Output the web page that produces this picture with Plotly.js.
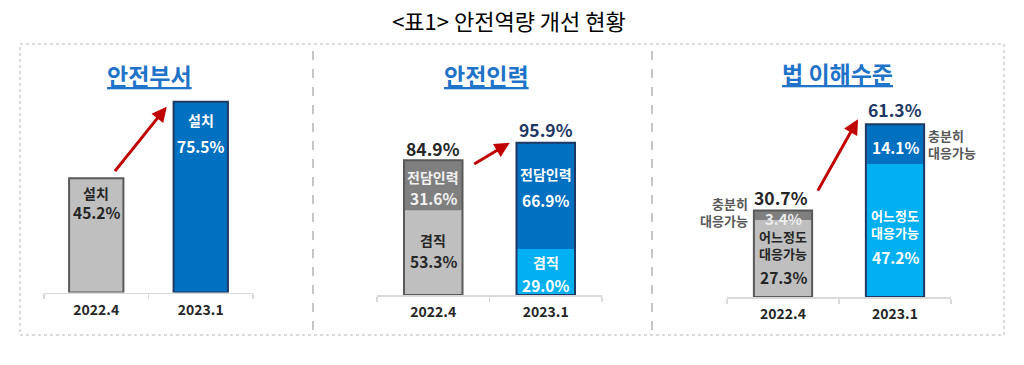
<!DOCTYPE html>
<html><head><meta charset="utf-8">
<script src="https://cdn.plot.ly/plotly-3.0.1.min.js"></script>
<style>html,body{margin:0;padding:0;background:#fff;}#chart{width:1024px;height:365px;}</style>
</head><body><div id="chart"></div>
<script>
// ---- data ----
const periods = ['2022.4', '2023.1'];
// 안전부서 (설치)
const deptInstalled = [45.2, 75.5];
// 안전인력
const staffConcurrent = [53.3, 29.0];   // 겸직
const staffDedicated = [31.6, 66.9];    // 전담인력
const staffTotal = [84.9, 95.9];
// 법 이해수준
const lawSomewhat = [27.3, 47.2];       // 어느정도 대응가능
const lawSufficient = [3.4, 14.1];      // 충분히 대응가능
const lawTotal = [30.7, 61.3];

const panelTitles = ['안전부서', '안전인력', '법 이해수준'];
const mainTitle = '<표1> 안전역량 개선 현황';

// ---- styles ----
const FONT = '"Noto Sans CJK KR", "Noto Sans", sans-serif';
const GREY_L = '#bfbfbf', GREY_D = '#7f7f7f', BLUE = '#0070c0', SKY = '#00b0f0';
const LINE_G = '#595959', LINE_B = '#1f3864';
const DARK = '#262626', WHITE = '#ffffff', NAVY = '#1f3864', SIDE = '#595959';
const W = 0.52;
const H = 365, PW = 1024;
const py = p => (H - p) / H;
const px = p => p / PW;
const pct = v => v.toFixed(1) + '%';
const FL = 14, FL2 = 13, FV = 15.5, FT = 17.5, FS = 13;

const traces = [
  // panel 1
  {type: 'bar', x: periods, y: deptInstalled, width: W, xaxis: 'x', yaxis: 'y',
   marker: {color: [GREY_L, BLUE], line: {color: [LINE_G, LINE_B], width: 2}}},
  // panel 2
  {type: 'bar', x: periods, y: staffConcurrent, width: W, xaxis: 'x2', yaxis: 'y2',
   marker: {color: [GREY_L, SKY], line: {width: 0}}},
  {type: 'bar', x: periods, y: staffDedicated, base: staffConcurrent, width: W, xaxis: 'x2', yaxis: 'y2',
   marker: {color: [GREY_D, BLUE], line: {width: 0}}},
  {type: 'bar', x: periods, y: staffTotal, width: W, xaxis: 'x2', yaxis: 'y2',
   marker: {color: 'rgba(0,0,0,0)', line: {color: [LINE_G, LINE_B], width: 2}}},
  // panel 3
  {type: 'bar', x: periods, y: lawSomewhat, width: W, xaxis: 'x3', yaxis: 'y3',
   marker: {color: [GREY_L, SKY], line: {width: 0}}},
  {type: 'bar', x: periods, y: lawSufficient, base: lawSomewhat, width: W, xaxis: 'x3', yaxis: 'y3',
   marker: {color: [GREY_D, BLUE], line: {width: 0}}},
  {type: 'bar', x: periods, y: lawTotal, width: W, xaxis: 'x3', yaxis: 'y3',
   marker: {color: 'rgba(0,0,0,0)', line: {color: [LINE_G, LINE_B], width: 2}}}
];
traces.forEach(tr => { tr.hoverinfo = 'skip'; tr.showlegend = false; });

function xax(d0, d1, anchor) {
  return {domain: [px(d0), px(d1)], anchor: anchor, type: 'category', range: [-0.5, 1.5],
    showline: true, linecolor: '#d9d9d9', linewidth: 1.5, showgrid: false, zeroline: false,
    ticks: 'outside', tickson: 'boundaries', ticklen: 5, tickcolor: '#d9d9d9', tickwidth: 1.5,
    ticklabelstandoff: 4,
    tickfont: {family: FONT, size: 14, color: DARK, weight: 'bold'}, fixedrange: true};
}
function yax(base, top, scale, anchor) {
  return {domain: [py(base), py(top)], anchor: anchor, range: [0, (base - top) / scale],
    showline: false, showgrid: false, zeroline: false, showticklabels: false, ticks: '', fixedrange: true};
}

const ann = [];
// i = category index (0 = 2022.4, 1 = 2023.1)
function lab(xr, yr, i, y, text, size, color, yshift, extra) {
  ann.push(Object.assign({xref: xr, yref: yr, x: i, y: y, text: text, showarrow: false,
    yshift: yshift, xanchor: 'center', yanchor: 'middle', borderpad: 0,
    font: {family: FONT, size: size, color: color, weight: 'bold'}}, extra || {}));
}

// panel titles
const titleX = [149, 486, 837], titleY = [75, 75, 73];
panelTitles.forEach((s, i) => ann.push({xref: 'paper', yref: 'paper', x: px(titleX[i]), y: py(titleY[i]),
  text: '<u>' + s + '</u>', showarrow: false, xanchor: 'center', yanchor: 'middle',
  font: {family: FONT, size: 23, color: '#1f73c8', weight: 'bold'}}));

// panel 1 labels
lab('x', 'y', 0, deptInstalled[0], '설치', FL, DARK, -15);
lab('x', 'y', 0, deptInstalled[0], pct(deptInstalled[0]), FV, DARK, -34);
lab('x', 'y', 1, deptInstalled[1], '설치', FL, WHITE, -18);
lab('x', 'y', 1, deptInstalled[1], pct(deptInstalled[1]), FV, WHITE, -44);

// panel 2 labels
lab('x2', 'y2', 0, staffTotal[0], pct(staffTotal[0]), FT, DARK, 12);
lab('x2', 'y2', 1, staffTotal[1], pct(staffTotal[1]), FT, NAVY, 13);
lab('x2', 'y2', 0, staffTotal[0], '전담인력', FL, '#f2f2f2', -17);
lab('x2', 'y2', 0, staffTotal[0], pct(staffDedicated[0]), FV, '#f2f2f2', -38);
lab('x2', 'y2', 0, staffConcurrent[0], '겸직', FL, DARK, -30);
lab('x2', 'y2', 0, staffConcurrent[0], pct(staffConcurrent[0]), FV, DARK, -51);
lab('x2', 'y2', 1, staffTotal[1], '전담인력', FL, WHITE, -31);
lab('x2', 'y2', 1, staffTotal[1], pct(staffDedicated[1]), FV, WHITE, -57);
lab('x2', 'y2', 1, staffConcurrent[1], '겸직', FL, WHITE, -13);
lab('x2', 'y2', 1, staffConcurrent[1], pct(staffConcurrent[1]), FV, WHITE, -36);

// panel 3 labels
lab('x3', 'y3', 0, lawTotal[0], pct(lawTotal[0]), FT, DARK, 13, {xshift: -2});
lab('x3', 'y3', 0, lawTotal[0], pct(lawSufficient[0]), FV - 0.5, '#ededed', -8);
lab('x3', 'y3', 0, lawSomewhat[0], '어느정도', FL2, DARK, -16);
lab('x3', 'y3', 0, lawSomewhat[0], '대응가능', FL2, DARK, -33);
lab('x3', 'y3', 0, lawSomewhat[0], pct(lawSomewhat[0]), FV, DARK, -57);
lab('x3', 'y3', 0, lawTotal[0], '충분히', FS, SIDE, 7, {xanchor: 'right', xshift: -34});
lab('x3', 'y3', 0, lawTotal[0], '대응가능', FS, SIDE, -10, {xanchor: 'right', xshift: -34});
lab('x3', 'y3', 1, lawTotal[1], pct(lawTotal[1]), FT, NAVY, 15);
lab('x3', 'y3', 1, lawTotal[1], pct(lawSufficient[1]), FV, WHITE, -23);
lab('x3', 'y3', 1, lawSomewhat[1], '어느정도', FL2, WHITE, -52);
lab('x3', 'y3', 1, lawSomewhat[1], '대응가능', FL2, WHITE, -69);
lab('x3', 'y3', 1, lawSomewhat[1], pct(lawSomewhat[1]), FV, WHITE, -93);
lab('x3', 'y3', 1, lawTotal[1], '충분히', FS, SIDE, -11, {xanchor: 'left', xshift: 32});
lab('x3', 'y3', 1, lawTotal[1], '대응가능', FS, SIDE, -28, {xanchor: 'left', xshift: 32});

// red arrows (head near the 2023.1 bar top, tail near the 2022.4 bar)
function arrow(xr, yr, y, xshift, yshift, ax, ay) {
  ann.push({xref: xr, yref: yr, x: 1, y: y, xshift: xshift, yshift: yshift,
    text: '', showarrow: true, axref: 'pixel', ayref: 'pixel', ax: ax, ay: ay,
    arrowhead: 2, arrowsize: 1, arrowwidth: 3, arrowcolor: '#c00000'});
}
arrow('x', 'y', deptInstalled[1], -34, -5, -53, 66);
arrow('x2', 'y2', staffTotal[1], -36, 0, -37, 22);
arrow('x3', 'y3', lawTotal[1], -37, 5, -41, 73);

const shapes = [
  {type: 'rect', xref: 'paper', yref: 'paper', x0: px(20), x1: px(1004), y0: py(335), y1: py(44),
   line: {color: '#b8b8b8', width: 1, dash: 'dot'}},
  {type: 'line', xref: 'paper', yref: 'paper', x0: px(313), x1: px(313), y0: py(330), y1: py(49),
   line: {color: '#a0a0a0', width: 1.2, dash: 'dash'}},
  {type: 'line', xref: 'paper', yref: 'paper', x0: px(652), x1: px(652), y0: py(330), y1: py(49),
   line: {color: '#a0a0a0', width: 1.2, dash: 'dash'}}
];

const layout = {
  width: 1024, height: 365, margin: {l: 0, r: 0, t: 0, b: 0},
  paper_bgcolor: '#ffffff', plot_bgcolor: 'rgba(0,0,0,0)',
  barmode: 'overlay', showlegend: false,
  title: {text: mainTitle, x: 0.497, xanchor: 'center', y: py(22), yanchor: 'middle', yref: 'paper',
          font: {family: FONT, size: 22, color: '#000000'}},
  xaxis: xax(44, 253, 'y'), yaxis: yax(292.5, 92.5, 2.528, 'x'),
  xaxis2: xax(377, 602, 'y2'), yaxis2: yax(295, 95, 1.587, 'x2'),
  xaxis3: xax(727, 951, 'y3'), yaxis3: yax(297, 97, 2.82, 'x3'),
  annotations: ann, shapes: shapes
};

Plotly.newPlot('chart', traces, layout, {displayModeBar: false, staticPlot: true});
</script></body></html>
